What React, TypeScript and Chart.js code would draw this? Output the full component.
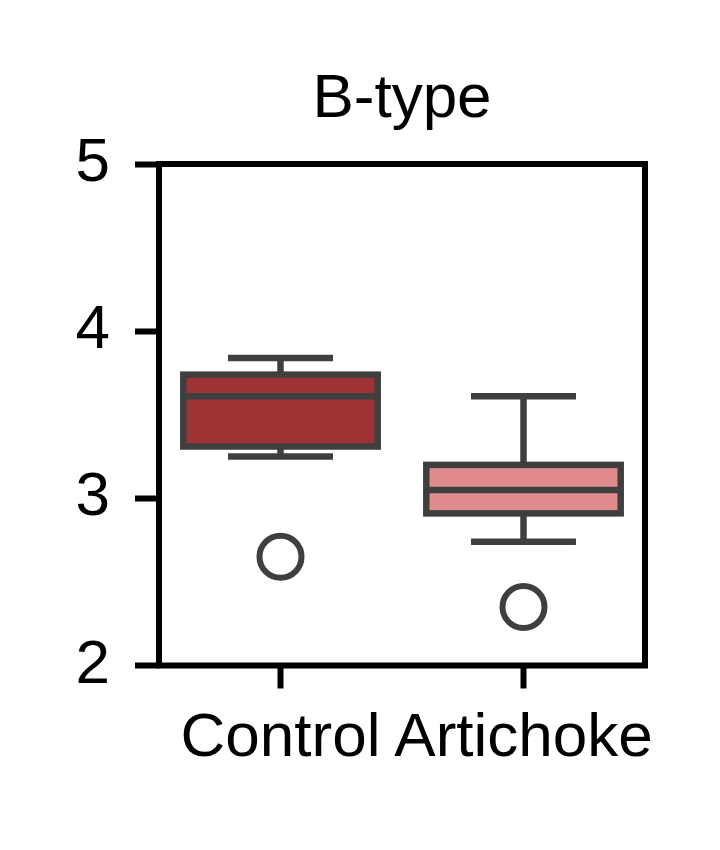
import React, { useEffect, useRef } from "react";
import { Chart, registerables } from "chart.js";

Chart.register(...registerables);

// ---- data ----
const categories = ["Control", "Artichoke"];
const whiskerLow = [3.25, 2.74];
const q1 = [3.31, 2.91];
const median = [3.61, 3.05];
const q3 = [3.74, 3.2];
const whiskerHigh = [3.84, 3.61];
const outliers = [2.65, 2.35];
const yTicks = [2, 3, 4, 5];
const titleText = "B-type";
const boxColors = ["#9e3335", "#e08c8e"];

const EDGE = "#3f3f3f";
const BOX_LW = 6.5;
const AXIS_LW = 6;
const FONT = "'Liberation Sans', Arial, Helvetica, sans-serif";
const FS = 62;

const boxPlugin = {
  id: "boxDecor",
  afterDatasetsDraw(chart: any) {
    const meta = chart.getDatasetMeta(0);
    const y = chart.scales.y;
    const ctx = chart.ctx;
    ctx.save();
    ctx.strokeStyle = EDGE;
    ctx.lineWidth = BOX_LW;
    ctx.lineCap = "butt";
    const line = (x1: number, y1: number, x2: number, y2: number) => {
      ctx.beginPath();
      ctx.moveTo(x1, y1);
      ctx.lineTo(x2, y2);
      ctx.stroke();
    };
    meta.data.forEach((bar: any, i: number) => {
      const { x, width } = bar.getProps(["x", "width"], true);
      const left = x - width / 2;
      const right = x + width / 2;
      const yq1 = y.getPixelForValue(q1[i]);
      const yq3 = y.getPixelForValue(q3[i]);
      const ylo = y.getPixelForValue(whiskerLow[i]);
      const yhi = y.getPixelForValue(whiskerHigh[i]);
      const ymed = y.getPixelForValue(median[i]);
      const cw = width * 0.54;
      line(x, yq3, x, yhi);
      line(x, yq1, x, ylo);
      line(x - cw / 2, yhi, x + cw / 2, yhi);
      line(x - cw / 2, ylo, x + cw / 2, ylo);
      ctx.strokeRect(left, yq3, width, yq1 - yq3);
      line(left, ymed, right, ymed);
    });
    ctx.restore();
  },
  afterDraw(chart: any) {
    const { left, right, top, bottom } = chart.chartArea;
    const ctx = chart.ctx;
    ctx.save();
    ctx.strokeStyle = "#000000";
    ctx.lineWidth = AXIS_LW;
    ctx.strokeRect(left, top, right - left, bottom - top);
    ctx.restore();
  },
};

export default function App() {
  const ref = useRef<HTMLCanvasElement | null>(null);

  useEffect(() => {
    if (!ref.current) return;
    Chart.defaults.font.family = FONT;
    const chart = new Chart(ref.current, {
      type: "bar",
      data: {
        labels: categories,
        datasets: [
          {
            type: "bar",
            data: categories.map((_, i) => [q1[i], q3[i]]) as any,
            backgroundColor: boxColors,
            borderWidth: 0,
            barPercentage: 0.8,
            categoryPercentage: 1,
          },
          {
            type: "line",
            data: outliers,
            showLine: false,
            pointRadius: 21,
            pointHoverRadius: 21,
            pointBorderWidth: 6,
            pointBorderColor: EDGE,
            pointBackgroundColor: "#ffffff",
          } as any,
        ],
      },
      options: {
        animation: false,
        responsive: false,
        events: [],
        layout: { padding: { top: 63, right: 75, bottom: 0, left: 0 } },
        plugins: {
          legend: { display: false },
          tooltip: { enabled: false },
          title: {
            display: true,
            text: titleText,
            fullSize: false,
            color: "#000000",
            font: { size: FS, weight: "normal", family: FONT, lineHeight: 1.2 },
            padding: { top: 0, bottom: 26.6 },
          },
        },
        scales: {
          x: {
            type: "category",
            offset: true,
            border: { display: false },
            grid: {
              offset: false,
              drawOnChartArea: false,
              drawTicks: true,
              tickLength: 23,
              tickWidth: AXIS_LW,
              tickColor: "#000000",
            },
            ticks: {
              color: "#000000",
              padding: 13,
              maxRotation: 0,
              autoSkip: false,
              font: { size: FS, family: FONT },
            },
            afterFit: (s: any) => {
              s.height = 850 - 665.5;
            },
          },
          y: {
            type: "linear",
            min: 2,
            max: 5,
            border: { display: false },
            grid: {
              drawOnChartArea: false,
              drawTicks: true,
              tickLength: 24,
              tickWidth: AXIS_LW,
              tickColor: "#000000",
            },
            ticks: {
              color: "#000000",
              padding: 25,
              font: { size: FS, family: FONT },
            },
            afterBuildTicks: (s: any) => {
              s.ticks = yTicks.map((v) => ({ value: v }));
            },
            afterFit: (s: any) => {
              s.width = 159;
            },
          },
        },
      } as any,
      plugins: [boxPlugin],
    });
    return () => chart.destroy();
  }, []);

  return (
    <div style={{ position: "absolute", left: 0, top: 0, width: 720, height: 850, background: "#ffffff" }}>
      <canvas ref={ref} width={720} height={850} style={{ display: "block" }} />
    </div>
  );
}
